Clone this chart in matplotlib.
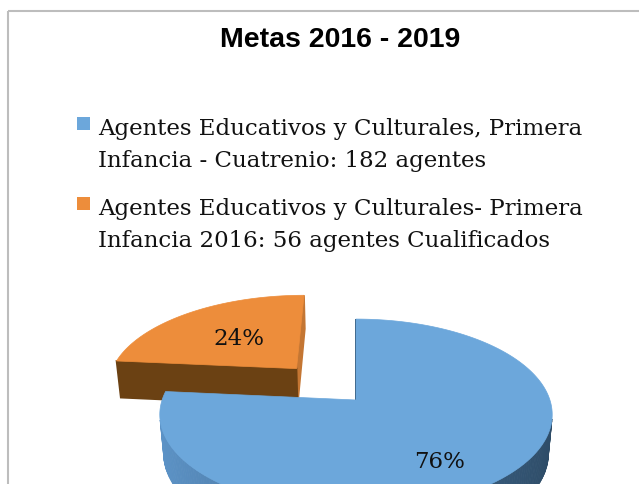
import numpy as np
import matplotlib
matplotlib.use("Agg")
import matplotlib.pyplot as plt
from matplotlib.colors import to_rgb
from matplotlib.patches import Polygon, Rectangle

title = "Metas 2016 - 2019"
labels = [
    "Agentes Educativos y Culturales, Primera\nInfancia - Cuatrenio: 182 agentes",
    "Agentes Educativos y Culturales- Primera\nInfancia 2016: 56 agentes Cualificados",
]
values = [182, 56]
top_colors = ["#6CA7DB", "#ED8D3B"]
side_light = ["#5D94C8", "#7A4A18"]
side_dark = ["#2D4B66", "#5C3510"]
# (start wall, end wall) colours of each slice
wall_colors = [("#2E4D69", "#2E4D69"), ("#6B4113", "#C47633")]
explode = [0.0, 0.48]

# camera for the tilted pie (units: pie radius = 1)
ELEV = np.radians(28.75)
DIST = 5.75
FOCAL = 1115.0
CX, CY = 356, 401
THICK = 0.23
SN, CS = np.sin(ELEV), np.cos(ELEV)
CAM = np.array([0.0, -DIST * CS, DIST * SN])


def project(x, y, z):
    depth = DIST + y * CS - z * SN
    return CX + FOCAL * x / depth, CY - FOCAL * (y * SN + z * CS) / depth


def mix(c1, c2, t):
    a, b = np.array(to_rgb(c1)), np.array(to_rgb(c2))
    return tuple(a + (b - a) * t)


def facing(normal, point):
    return np.dot(normal, CAM - np.asarray(point)) >= -1e-9


fig = plt.figure(figsize=(6.39, 4.85), dpi=100)
ax = fig.add_axes([0, 0, 1, 1])
ax.set_xlim(0, 639)
ax.set_ylim(485, 0)
ax.axis("off")

ax.add_patch(Rectangle((8, 12), 700, 500, fill=False, ec="#BDBDBD", lw=1.5))
ax.text(340, 47, title, ha="center", va="baseline", fontsize=20.5,
        fontweight="bold", family="Liberation Sans")

# legend
for i, lab in enumerate(labels):
    base = 135 + i * 80
    ax.add_patch(Rectangle((77, base - 17), 13, 13, color=top_colors[i], lw=0))
    for k, line in enumerate(lab.split("\n")):
        ax.text(98, base + k * 31.7, line, ha="left", va="baseline",
                fontsize=16.5, family="DejaVu Serif", color="#111111")

# slices: start at 12 o'clock, run clockwise
fracs = np.array(values) / np.sum(values)
slices = []
start = 90.0
for i, fr in enumerate(fracs):
    a0, a1 = start, start - 360 * fr
    mid = np.radians((a0 + a1) / 2)
    off = (explode[i] * np.cos(mid), explode[i] * np.sin(mid))
    slices.append((i, a0, a1, mid, off))
    start = a1

label_pos = [(0.71, -9.0), (0.52, 0.0)]

# farthest slice first
for i, a0, a1, mid, (ox, oy) in sorted(slices, key=lambda s: -(s[4][1] + np.sin(s[3]))):
    faces = []
    # radial walls
    for ang, turn, wc in ((a0, 90, wall_colors[i][0]), (a1, -90, wall_colors[i][1])):
        r = np.radians(ang)
        n = np.array([np.cos(r + np.radians(turn)), np.sin(r + np.radians(turn)), 0])
        pm = (ox + 0.5 * np.cos(r), oy + 0.5 * np.sin(r), -THICK / 2)
        if facing(n, pm):
            pts = [project(ox, oy, 0), project(ox + np.cos(r), oy + np.sin(r), 0),
                   project(ox + np.cos(r), oy + np.sin(r), -THICK), project(ox, oy, -THICK)]
            faces.append((pm[1], pts, wc, 1.2))
    # outer rim, in thin strips
    th = np.radians(np.linspace(a0, a1, 240))
    for t0, t1 in zip(th[:-1], th[1:]):
        tm = (t0 + t1) / 2
        n = np.array([np.cos(tm), np.sin(tm), 0])
        pm = (ox + np.cos(tm), oy + np.sin(tm), -THICK / 2)
        if facing(n, pm):
            pts = [project(ox + np.cos(t0), oy + np.sin(t0), 0),
                   project(ox + np.cos(t1), oy + np.sin(t1), 0),
                   project(ox + np.cos(t1), oy + np.sin(t1), -THICK),
                   project(ox + np.cos(t0), oy + np.sin(t0), -THICK)]
            col = mix(side_light[i], side_dark[i], (1 + np.cos(tm)) / 2)
            faces.append((pm[1], pts, col, 0.6))
    for _, pts, col, lw in sorted(faces, key=lambda f: -f[0]):
        ax.add_patch(Polygon(pts, closed=True, fc=col, ec=col, lw=lw))
    top = [project(ox, oy, 0)] + [project(ox + np.cos(t), oy + np.sin(t), 0) for t in th]
    ax.add_patch(Polygon(top, closed=True, fc=top_colors[i], ec=top_colors[i], lw=0.5))

    lr, da = label_pos[i]
    la = mid + np.radians(da)
    lx, ly = project(ox + lr * np.cos(la), oy + lr * np.sin(la), 0)
    ax.text(lx, ly, f"{fracs[i] * 100:.0f}%", ha="center", va="center",
            fontsize=16.5, family="DejaVu Serif", color="#111111")

fig.savefig("out.png", dpi=100)
